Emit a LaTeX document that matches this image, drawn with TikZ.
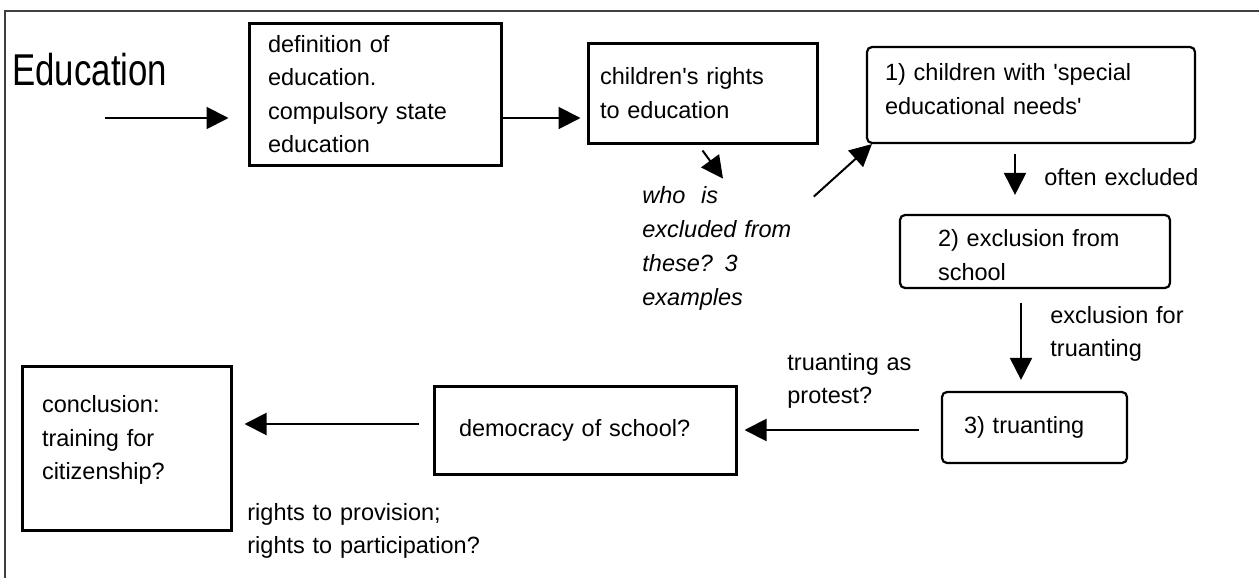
\documentclass[tikz,border=0pt]{standalone}
\usepackage{fontspec}
\setmainfont{Liberation Sans}[Ligatures=TeXOff]
\newfontfamily\narrowfont{Liberation Sans}[FakeStretch=0.78]
\usetikzlibrary{arrows.meta}

\begin{document}
\begin{tikzpicture}[x=0.5pt,y=-0.5pt,
    txt/.style={font=\fontsize{11.75}{16.75}\selectfont,inner sep=0pt,align=left},
    box/.style={txt,draw,line width=1.5pt},
    rbox/.style={txt,draw,line width=1.1pt,rounded corners=2.5pt},
    lbl/.style={txt,text width=130pt,anchor=base west},
    arr/.style={line width=1pt,-{Triangle[length=11pt,width=11pt]}}]
    \useasboundingbox(0,0)rectangle(1259,578);
    \draw[line width=0.75pt,black!75](5,578)--(5,11)--(1259,11);

    \node[font=\narrowfont\fontsize{22.3}{26}\selectfont,inner sep=0pt,anchor=base west](title)at(12,85){Education};
    \coordinate(start)at(105,118);

    \node[box,minimum width=126pt,minimum height=71pt,text width=107pt](def)at(375,94){definition of\\education.\\compulsory state\\education};
    \node[box,minimum width=114.5pt,minimum height=50pt,text width=102.5pt](rights)at(702.5,93){children's rights\\to education};
    \node[rbox,minimum width=164pt,minimum height=48pt,text width=146pt](sen)at(1031,95){1) children with 'special\\educational needs'\rule[-6pt]{0pt}{1pt}};
    \node[rbox,minimum width=135pt,minimum height=36.5pt,text width=97pt](excl)at(1035,251.5){\rule{0pt}{12pt}2) exclusion from\\school};
    \node[rbox,minimum width=92.5pt,minimum height=35.5pt,text width=70.5pt](tru)at(1034.5,427.5){3) truanting};
    \node[box,minimum width=151pt,minimum height=44pt,text width=126pt](demo)at(585,430){democracy of school?};
    \node[box,minimum width=104.5pt,minimum height=82pt,text width=84.5pt](concl)at(126.5,448){conclusion:\\training for\\citizenship?\rule[-10.5pt]{0pt}{1pt}};

    \node[lbl,text width=80pt,font=\itshape\fontsize{11.75}{17}\selectfont](who)at(642,203){who\ \ is\\excluded from\\these? 3\\examples};
    \node[lbl](often)at(1044,185){often excluded};
    \node[lbl](forexcl)at(1050,323){exclusion for\\truanting};
    \node[lbl](protest)at(787,370){truanting as\\protest?};
    \node[lbl](prov)at(247,520){rights to provision;\\rights to participation?};

    \draw[arr,shorten >=9.5pt](start)--(start-|def.west);
    \draw[arr,shorten >=3pt](def.east|-start)--(rights.west|-start);
    \draw[arr]([shift={(0,6)}]rights.south)--([shift={(81,-7)}]who.north west);
    \draw[arr]([shift={(11,11)}]who.north east)--([shift={(6,0)}]sen.south west);
    \draw[arr]([shift={(-16,10)}]sen.south)--([shift={(-20,-19)}]excl.north);
    \draw[arr]([shift={(-14,14)}]excl.south)--([shift={(-13.5,-11)}]tru.north);
    \draw[arr]([shift={(-22,2.5)}]tru.west)--([shift={(7,0)}]demo.east);
    \draw[arr]([shift={(-14,-6)}]demo.west)--([shift={(12,-24)}]concl.east);
\end{tikzpicture}
\end{document}
